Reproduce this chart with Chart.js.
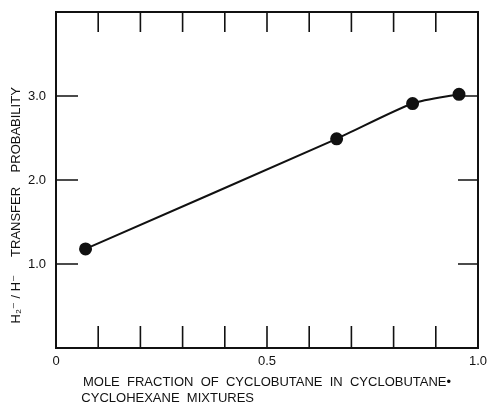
<!DOCTYPE html>
<html>
<head>
<meta charset="utf-8">
<script src="https://cdn.jsdelivr.net/npm/chart.js@4.4.0/dist/chart.umd.min.js"></script>
<style>
  html, body { margin: 0; padding: 0; background: #fff; }
</style>
</head>
<body>
<canvas id="c" width="488" height="408"></canvas>
<script>
// mole fraction of cyclobutane (x) vs H2-/H- transfer probability (y)
const moleFraction = [0.07, 0.665, 0.845, 0.955];
const transferProb = [1.18, 2.49, 2.91, 3.02];

// tick marks drawn inside the frame, and the labelled ticks
const xTickMarks = [0.1, 0.2, 0.3, 0.4, 0.5, 0.6, 0.7, 0.8, 0.9];
const yTickMarks = [1, 2, 3];
const xLabelVals = [0, 0.5, 1];
const xLabelText = ['0', '0.5', '1.0'];
const yLabelVals = [1, 2, 3];
const yLabelText = ['1.0', '2.0', '3.0'];

const xTitle = ['MOLE  FRACTION  OF  CYCLOBUTANE  IN  CYCLOBUTANE\u2022',
  'CYCLOHEXANE  MIXTURES' + ' '.repeat(55)];
const yTitle = 'H\u2082\u207B / H\u207B     TRANSFER    PROBABILITY' + ' '.repeat(14);

const ink = '#111';
const fnt = { family: 'Liberation Sans, DejaVu Sans, sans-serif', size: 13 };

// frame + inward ticks on all four sides
const frameTicks = {
  id: 'frameTicks',
  afterDatasetsDraw(chart) {
    const { ctx, chartArea: a, scales } = chart;
    ctx.save();
    ctx.strokeStyle = ink;
    ctx.lineWidth = 2;
    ctx.strokeRect(a.left, a.top, a.right - a.left, a.bottom - a.top);
    ctx.lineWidth = 1.6;
    ctx.beginPath();
    xTickMarks.forEach(v => {
      const px = scales.x.getPixelForValue(v);
      ctx.moveTo(px, a.bottom); ctx.lineTo(px, a.bottom - 22);
      ctx.moveTo(px, a.top); ctx.lineTo(px, a.top + 20);
    });
    yTickMarks.forEach(v => {
      const py = scales.y.getPixelForValue(v);
      ctx.moveTo(a.left, py); ctx.lineTo(a.left + 22, py);
      ctx.moveTo(a.right, py); ctx.lineTo(a.right - 20, py);
    });
    ctx.stroke();
    ctx.restore();
  }
};

new Chart(document.getElementById('c'), {
  type: 'scatter',
  data: {
    datasets: [{
      data: moleFraction.map((x, i) => ({ x, y: transferProb[i] })),
      showLine: true,
      borderColor: ink,
      borderWidth: 2,
      tension: 0.25,
      pointRadius: 5.5,
      pointBackgroundColor: ink,
      pointBorderColor: ink
    }]
  },
  options: {
    responsive: false,
    animation: false,
    devicePixelRatio: 1,
    layout: { autoPadding: false, padding: { top: 12, right: 10, left: 0, bottom: 0 } },
    plugins: { legend: { display: false }, tooltip: { enabled: false } },
    scales: {
      x: {
        type: 'linear', min: 0, max: 1,
        grid: { display: false, drawTicks: false },
        border: { display: false },
        afterBuildTicks: s => { s.ticks = xLabelVals.map(value => ({ value })); },
        ticks: {
          autoSkip: false, maxRotation: 0, padding: 6,
          color: ink, font: fnt,
          callback: v => xLabelText[xLabelVals.indexOf(v)]
        },
        title: { display: true, text: xTitle, color: ink, font: fnt, padding: { top: 0, bottom: 2 } },
        afterFit: s => { s.height = 60; s.paddingLeft = 0; s.paddingRight = 0; }
      },
      y: {
        min: 0, max: 4,
        grid: { display: false, drawTicks: false },
        border: { display: false },
        afterBuildTicks: s => { s.ticks = yLabelVals.map(value => ({ value })); },
        ticks: {
          padding: 10, color: ink, font: fnt,
          callback: v => yLabelText[yLabelVals.indexOf(v)]
        },
        title: { display: true, text: yTitle, color: ink, font: fnt, padding: { top: 9, bottom: 0 } },
        afterFit: s => { s.width = 56; s.paddingTop = 0; s.paddingBottom = 0; }
      }
    }
  },
  plugins: [frameTicks]
});
</script>
</body>
</html>
